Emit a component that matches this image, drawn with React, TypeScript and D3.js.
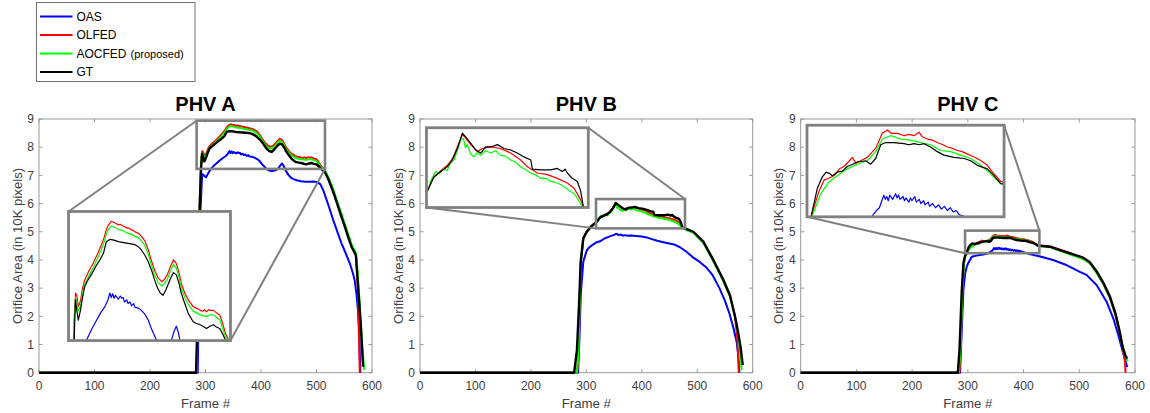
import React from 'react';
import * as d3 from 'd3';

type Pt = [number, number];

const seriesNames = ['OAS', 'OLFED', 'AOCFED', 'GT'];
const seriesColors = ['#0000ff', '#ff0000', '#00ff00', '#000000'];
const panelTitles = ['PHV A', 'PHV B', 'PHV C'];
const xTicks = [0, 100, 200, 300, 400, 500, 600];
const yTicks = [0, 1, 2, 3, 4, 5, 6, 7, 8, 9];

// PHV A  [frame, area in 10K px]
const A_OAS: Pt[] = [[0,0],[286,0],[288,2.5],[291,5.8],[294,7.05],[297,7.0],[301,6.93],[305,7.08],[310,7.24],[317,7.38],[324,7.5],[330,7.6],[336,7.68],[340,7.76],[343,7.86],[345,7.8],[347,7.85],[349,7.79],[351,7.83],[355,7.78],[358,7.82],[360,7.79],[362,7.8],[364,7.74],[367,7.77],[369,7.72],[372,7.74],[374,7.69],[377,7.72],[379,7.67],[384,7.66],[388,7.63],[393,7.58],[398,7.5],[401,7.42],[405,7.33],[410,7.23],[415,7.17],[420,7.15],[426,7.18],[431,7.24],[435,7.36],[438,7.42],[441,7.33],[445,7.15],[450,7.0],[455,6.9],[460,6.86],[466,6.82],[472,6.79],[480,6.77],[488,6.77],[495,6.78],[502,6.76],[507,6.68],[512,6.48],[517,6.2],[523,5.85],[530,5.42],[538,4.98],[545,4.59],[553,4.22],[560,3.88],[566,3.5],[569,3.25],[572,2.8],[575,2.15],[577,1.4],[578,0.7],[579,0]];
const A_OLFED: Pt[] = [[0,0],[284,0],[286,2.0],[289,5.5],[292,7.5],[294,7.86],[296,7.82],[298,7.68],[301,7.75],[304,7.92],[307,8.03],[313,8.15],[319,8.25],[325,8.37],[331,8.5],[335,8.6],[338,8.7],[341,8.76],[345,8.81],[350,8.79],[355,8.76],[358,8.77],[361,8.75],[364,8.74],[367,8.72],[370,8.72],[373,8.7],[376,8.69],[379,8.67],[384,8.65],[388,8.61],[393,8.55],[398,8.43],[402,8.3],[407,8.16],[412,8.06],[417,8.01],[421,8.04],[425,8.1],[430,8.22],[434,8.3],[438,8.25],[442,8.12],[445,7.99],[450,7.86],[455,7.77],[462,7.68],[466,7.66],[469,7.65],[472,7.63],[476,7.62],[478,7.64],[481,7.61],[484,7.64],[486,7.63],[491,7.63],[495,7.6],[500,7.57],[504,7.46],[508,7.33],[512,7.25],[515,7.15],[521,6.9],[527,6.62],[533,6.28],[539,5.92],[545,5.57],[551,5.22],[557,4.87],[563,4.52],[568,4.32],[571,4.18],[573,3.6],[575,2.8],[576,1.8],[577,0.8],[578,0]];
const A_AOCFED: Pt[] = [[0,0],[284,0],[286,2.0],[289,5.5],[292,7.45],[294,7.8],[296,7.75],[298,7.62],[301,7.69],[304,7.86],[307,7.97],[313,8.09],[319,8.19],[325,8.31],[331,8.44],[335,8.54],[338,8.64],[341,8.7],[345,8.75],[350,8.73],[355,8.7],[361,8.69],[367,8.66],[373,8.64],[379,8.61],[384,8.59],[388,8.55],[393,8.49],[398,8.37],[402,8.24],[407,8.1],[412,8.0],[417,7.95],[421,7.98],[425,8.04],[430,8.16],[434,8.24],[438,8.19],[442,8.06],[445,7.93],[450,7.8],[455,7.71],[462,7.62],[466,7.6],[472,7.57],[476,7.56],[481,7.55],[486,7.57],[491,7.57],[495,7.54],[500,7.51],[504,7.4],[508,7.28],[512,7.24],[515,7.18],[521,6.95],[527,6.68],[533,6.34],[539,5.98],[545,5.63],[551,5.28],[557,4.92],[563,4.56],[568,4.36],[571,4.25],[574,3.6],[577,2.7],[580,1.7],[583,0.8],[586,0.1]];
const A_GT: Pt[] = [[0,0],[283,0],[285,1.5],[288,4.5],[290,6.2],[292,7.24],[294,7.77],[296,7.62],[298,7.5],[301,7.63],[304,7.8],[307,7.94],[311,8.02],[315,8.08],[320,8.16],[324,8.23],[329,8.3],[334,8.39],[338,8.54],[343,8.57],[349,8.56],[355,8.54],[361,8.53],[367,8.52],[373,8.51],[379,8.5],[384,8.47],[388,8.43],[393,8.36],[398,8.27],[403,8.15],[407,8.03],[411,7.93],[415,7.86],[419,7.83],[423,7.9],[426,7.97],[430,8.06],[434,8.13],[438,8.1],[442,7.98],[445,7.86],[450,7.72],[455,7.59],[462,7.48],[466,7.46],[472,7.44],[476,7.42],[481,7.39],[486,7.42],[491,7.44],[495,7.41],[500,7.39],[504,7.32],[508,7.24],[515,7.12],[521,6.88],[527,6.58],[533,6.25],[539,5.89],[545,5.53],[551,5.18],[557,4.82],[563,4.47],[568,4.28],[571,4.16],[573,3.6],[575,3.05],[578,2.2],[580,1.63],[582,0.9],[584,0.21]];

// PHV B
const B_OAS: Pt[] = [[0,0],[285,0],[287.5,1.2],[290,2.8],[294.5,3.94],[300.6,4.33],[304,4.42],[310,4.52],[318.7,4.63],[324.6,4.66],[333.6,4.77],[340,4.82],[348.6,4.88],[354.7,4.93],[358,4.88],[362,4.9],[366,4.86],[370,4.88],[375,4.86],[380,4.87],[390,4.85],[400,4.83],[408.8,4.8],[418,4.74],[428,4.68],[438.8,4.63],[450,4.58],[458,4.55],[468.9,4.45],[480,4.3],[493,4.08],[505,3.92],[517,3.72],[528,3.45],[540,3.0],[550,2.55],[558,2.1],[565,1.6],[571,1.1],[574,0.6],[576,0]];
const B_OLFED: Pt[] = [[0,0],[283,0],[285.5,0.5],[288,2.5],[290,3.9],[294.5,4.75],[300.6,5.0],[309.6,5.22],[318.9,5.356],[324,5.49],[331.5,5.579],[338,5.642],[343,5.713],[348,5.856],[353,5.999],[356,5.964],[361.2,5.883],[367.9,5.803],[372.8,5.838],[381.1,5.856],[391,5.838],[400.9,5.785],[410.8,5.704],[417.5,5.624],[427.4,5.552],[437.3,5.534],[447.2,5.49],[457.1,5.436],[463.8,5.374],[470.4,5.239],[473,5.159],[478,5.1],[493,4.98],[511,4.63],[529,3.98],[547,3.28],[559,2.72],[568,2.0],[572,1.3],[574,0.5],[575,0]];
const B_AOCFED: Pt[] = [[0,0],[283,0],[285,0.5],[288,2.5],[290,3.9],[294.5,4.75],[300.6,5.0],[309.6,5.2],[318.9,5.356],[322,5.472],[326.5,5.57],[330,5.543],[334.8,5.606],[338,5.579],[341,5.669],[344.7,5.704],[348,5.812],[351.3,5.937],[354,5.955],[356,5.847],[357.9,5.883],[361,5.776],[364.5,5.74],[368,5.794],[371.2,5.758],[376,5.812],[381.1,5.785],[386,5.812],[391,5.758],[396,5.749],[400.9,5.704],[405,5.686],[410.8,5.624],[415,5.597],[420.8,5.552],[425,5.534],[430.7,5.49],[436,5.49],[440.6,5.454],[445,5.445],[450.5,5.418],[455,5.382],[460.4,5.338],[464,5.311],[467.1,5.257],[472.1,5.159],[478,5.08],[493,4.96],[511,4.6],[529,3.95],[547,3.25],[559,2.7],[568,2.0],[574,1.35],[578,0.6],[580,0.1]];
const B_GT: Pt[] = [[0,0],[278,0],[283,0.8],[287,2.5],[289.8,3.94],[294.5,4.77],[300.6,5.0],[309.6,5.2],[318.9,5.356],[324.8,5.508],[331.5,5.57],[338,5.624],[343,5.704],[348,5.838],[353,6.017],[356.3,5.972],[361.2,5.901],[366.2,5.821],[371.2,5.785],[376.2,5.856],[381.1,5.856],[387.7,5.883],[394.3,5.838],[400.9,5.821],[407.5,5.785],[414.1,5.74],[420.8,5.704],[422.5,5.597],[430.7,5.588],[440.6,5.588],[447.2,5.606],[452.2,5.57],[455,5.597],[457.1,5.552],[462.1,5.49],[467.1,5.454],[470.4,5.338],[473,5.159],[478,5.12],[493,5.0],[511,4.65],[529,4.0],[547,3.3],[559,2.75],[568,2.0],[574,1.4],[578.4,0.87],[582,0.27]];

// PHV C
const C_OAS: Pt[] = [[0,0],[286,0],[289,1.5],[292,2.93],[295,3.5],[298,3.76],[301,3.9],[307,4.11],[319,4.17],[330,4.2],[336,4.24],[339,4.27],[342,4.31],[344,4.33],[345,4.36],[347,4.42],[348,4.39],[349,4.41],[350,4.38],[351,4.42],[353,4.39],[354,4.41],[355,4.43],[356,4.4],[357,4.42],[358,4.39],[360,4.41],[361,4.38],[362,4.4],[364,4.37],[365,4.4],[366,4.38],[368,4.41],[369,4.37],[371,4.39],[372,4.36],[374,4.38],[375,4.35],[377,4.37],[378,4.34],[380,4.36],[382,4.33],[384,4.35],[386,4.32],[388,4.34],[390,4.31],[392,4.33],[394,4.3],[396,4.31],[398,4.28],[401,4.27],[412,4.2],[430,4.12],[453,4.0],[477,3.82],[501,3.58],[513,3.47],[531,3.11],[549,2.52],[561,1.93],[570,1.34],[578,0.75],[585,0.27],[586,0.2]];
const C_OLFED: Pt[] = [[0,0],[285,0],[287,1.0],[290,2.9],[293,3.9],[296,4.18],[298,4.273],[303,4.445],[306.5,4.527],[310,4.543],[313.3,4.559],[317,4.608],[320,4.625],[323,4.657],[325.7,4.69],[328,4.649],[331.3,4.666],[335.8,4.69],[341.5,4.756],[346,4.862],[349.4,4.886],[352,4.862],[356.2,4.862],[360.7,4.845],[364,4.854],[367.4,4.845],[370.8,4.87],[373,4.837],[376.5,4.821],[380,4.813],[383.2,4.796],[387,4.78],[390,4.764],[393,4.756],[396.8,4.739],[400,4.731],[403.5,4.715],[407,4.698],[410.3,4.682],[414,4.657],[417.1,4.633],[420,4.592],[422.7,4.559],[426.1,4.518],[430,4.51],[447.6,4.48],[465.5,4.36],[489,4.2],[507,4.06],[519,3.9],[531,3.55],[543,3.15],[555,2.65],[565,2.05],[572,1.45],[578,0.85],[582,0.4],[583,0]];
const C_AOCFED: Pt[] = [[0,0],[284,0],[287,1.0],[290,2.9],[293,3.9],[296,4.16],[298.6,4.273],[304.2,4.429],[310.1,4.518],[315.5,4.559],[322.3,4.608],[329.1,4.641],[335.8,4.666],[341.5,4.731],[346,4.821],[351.6,4.845],[358.4,4.821],[365.2,4.813],[372,4.796],[378.7,4.78],[385.5,4.739],[392.3,4.731],[399,4.706],[405.8,4.682],[412.6,4.633],[418.2,4.584],[422.7,4.535],[426.1,4.502],[430,4.49],[447.6,4.45],[465.5,4.32],[489,4.16],[507,4.03],[519,3.88],[531,3.55],[543,3.15],[555,2.67],[565,2.07],[572,1.48],[578,0.9],[583,0.6],[587,0.4]];
const C_GT: Pt[] = [[0,0],[282,0],[285,0.8],[289,2.87],[292,3.88],[295,4.15],[297.9,4.273],[302,4.469],[305.4,4.551],[308,4.584],[310.1,4.576],[312.2,4.559],[315.5,4.584],[319,4.592],[322.3,4.625],[326,4.641],[329.1,4.657],[334.7,4.666],[338.1,4.641],[341.5,4.682],[344.9,4.78],[348.3,4.796],[353.9,4.796],[360.7,4.788],[364,4.78],[367.4,4.788],[371,4.78],[374.2,4.788],[378.7,4.764],[383.2,4.731],[387.7,4.706],[394.5,4.69],[401.3,4.682],[405.8,4.666],[410.3,4.633],[417.1,4.608],[421.6,4.559],[426.1,4.502],[430,4.5],[447.6,4.47],[465.5,4.35],[489,4.2],[507,4.08],[519,3.92],[531,3.6],[543,3.2],[555,2.7],[565,2.1],[572,1.5],[578,0.9],[583,0.6],[586,0.5]];

const panelSeries: Pt[][][] = [
  [A_OAS, A_OLFED, A_AOCFED, A_GT],
  [B_OAS, B_OLFED, B_AOCFED, B_GT],
  [C_OAS, C_OLFED, C_AOCFED, C_GT],
];

// rectangles drawn on the main axes: [frame0, frame1, value0, value1]
const zoomBoxes = [
  [284, 515.3, 7.23, 8.94],
  [317.4, 477.9, 5.12, 6.16],
  [295, 428.4, 4.24, 5.04],
];
// axis limits of each magnified view (not quite the drawn rectangle)
const zoomLimits = [
  [284, 515.3, 7.23, 8.94],
  [317.4, 477.9, 5.15, 6.08],
  [295, 428.4, 4.265, 4.92],
];
// where each magnified view sits, in the parent axes' data units
const insetBoxes = [
  [53.2, 345, 1.14, 5.72],
  [11.7, 303.5, 5.86, 8.69],
  [11.3, 365, 5.53, 8.78],
];
const insetLinks = [
  [['tl', 'tl'], ['br', 'br']],
  [['tr', 'tr'], ['bl', 'bl']],
  [['tr', 'tr'], ['bl', 'bl']],
];

const W = 1150;
const H = 413;
const PLOT_TOP = 119;
const PLOT_BOTTOM = 372.7;
const panelX = [[39, 372], [420, 752.7], [800.7, 1135]];
const FONT = '"Liberation Sans", Arial, Helvetica, sans-serif';
const TXT = '#404040';
const FRAME = '#9a9a9a';
const ZOOM_GRAY = '#808080';

function corner(b: number[], c: string): Pt {
  const f = c[1] === 'l' ? b[0] : b[1];
  const v = c[0] === 't' ? b[3] : b[2];
  return [f, v];
}

function Panel({ idx }: { idx: number }) {
  const [left, right] = panelX[idx];
  const x = d3.scaleLinear().domain([0, 600]).range([left, right]);
  const y = d3.scaleLinear().domain([0, 9]).range([PLOT_BOTTOM, PLOT_TOP]);
  const line = d3.line<Pt>().x((d) => x(d[0])).y((d) => y(d[1]));

  const zb = zoomBoxes[idx];
  const zl = zoomLimits[idx];
  const ib = insetBoxes[idx];
  const ix0 = x(ib[0]), ix1 = x(ib[1]), iyTop = y(ib[3]), iyBot = y(ib[2]);
  const xi = d3.scaleLinear().domain([zl[0], zl[1]]).range([ix0, ix1]);
  const yi = d3.scaleLinear().domain([zl[2], zl[3]]).range([iyBot, iyTop]);
  const iline = d3.line<Pt>().x((d) => xi(d[0])).y((d) => yi(d[1]));
  const clipId = `inset-clip-${idx}`;
  const series = panelSeries[idx];
  const tickLen = 3.5;

  return (
    <g>
      <defs>
        <clipPath id={clipId}>
          <rect x={ix0} y={iyTop} width={ix1 - ix0} height={iyBot - iyTop} />
        </clipPath>
      </defs>
      <rect x={left} y={PLOT_TOP} width={right - left} height={PLOT_BOTTOM - PLOT_TOP} fill="#fff" stroke={FRAME} strokeWidth={1} />
      {xTicks.map((t) => (
        <g key={'xt' + t}>
          <line x1={x(t)} x2={x(t)} y1={PLOT_BOTTOM} y2={PLOT_BOTTOM - tickLen} stroke={FRAME} />
          <line x1={x(t)} x2={x(t)} y1={PLOT_TOP} y2={PLOT_TOP + tickLen} stroke={FRAME} />
          <text x={x(t)} y={PLOT_BOTTOM + 17.5} textAnchor="middle" fontSize={12} fill={TXT} fontFamily={FONT}>{t}</text>
        </g>
      ))}
      {yTicks.map((t) => (
        <g key={'yt' + t}>
          <line x1={left} x2={left + tickLen} y1={y(t)} y2={y(t)} stroke={FRAME} />
          <line x1={right} x2={right - tickLen} y1={y(t)} y2={y(t)} stroke={FRAME} />
          <text x={left - 5} y={y(t) + 4.3} textAnchor="end" fontSize={12} fill={TXT} fontFamily={FONT}>{t}</text>
        </g>
      ))}
      <text x={(left + right) / 2} y={PLOT_TOP - 8.5} textAnchor="middle" fontSize={20} fontWeight="bold" fill="#000" fontFamily={FONT}>{panelTitles[idx]}</text>
      <text x={(left + right) / 2} y={408} textAnchor="middle" fontSize={13.2} fill={TXT} fontFamily={FONT}>Frame #</text>
      <text transform={`translate(${left - 17.5},${(PLOT_TOP + PLOT_BOTTOM) / 2}) rotate(-90)`} textAnchor="middle" fontSize={13.2} fill={TXT} fontFamily={FONT}>Orifice Area (in 10K pixels)</text>

      {series.map((d, i) => (
        <path key={'s' + i} d={line(d) || ''} fill="none" stroke={seriesColors[i]} strokeWidth={i === 3 ? 2.4 : 2} strokeLinejoin="round" />
      ))}

      {insetLinks[idx].map(([a, b], k) => {
        const p = corner(zb, a);
        const q = corner(ib, b);
        return <line key={'lk' + k} x1={x(p[0])} y1={y(p[1])} x2={x(q[0])} y2={y(q[1])} stroke={ZOOM_GRAY} strokeWidth={2} />;
      })}
      <rect x={x(zb[0])} y={y(zb[3])} width={x(zb[1]) - x(zb[0])} height={y(zb[2]) - y(zb[3])} fill="none" stroke={ZOOM_GRAY} strokeWidth={2.6} />

      <rect x={ix0} y={iyTop} width={ix1 - ix0} height={iyBot - iyTop} fill="#fff" />
      <g clipPath={`url(#${clipId})`}>
        {series.map((d, i) => (
          <path key={'i' + i} d={iline(d) || ''} fill="none" stroke={seriesColors[i]} strokeWidth={1.2} strokeLinejoin="round" />
        ))}
      </g>
      <rect x={ix0} y={iyTop} width={ix1 - ix0} height={iyBot - iyTop} fill="none" stroke={ZOOM_GRAY} strokeWidth={2.8} />
    </g>
  );
}

function Legend() {
  const rowY = [16.5, 35, 53.5, 72];
  return (
    <g fontFamily={FONT}>
      <rect x={36.5} y={2.5} width={158.5} height={79} fill="#fff" stroke="#707070" strokeWidth={1} />
      {seriesNames.map((name, i) => (
        <g key={name}>
          <line x1={40} x2={72.5} y1={rowY[i]} y2={rowY[i]} stroke={seriesColors[i]} strokeWidth={2} />
          <text x={76.5} y={rowY[i] + 4.3} fontSize={12} fill="#000">
            {name}
            {name === 'AOCFED' ? <tspan fontSize={11} dx={4}>(proposed)</tspan> : null}
          </text>
        </g>
      ))}
    </g>
  );
}

export default function App() {
  return (
    <svg width={W} height={H} style={{ position: 'absolute', left: 0, top: 0, background: '#fff' }}>
      <rect width={W} height={H} fill="#fff" />
      {[0, 1, 2].map((i) => <Panel key={i} idx={i} />)}
      <Legend />
    </svg>
  );
}
